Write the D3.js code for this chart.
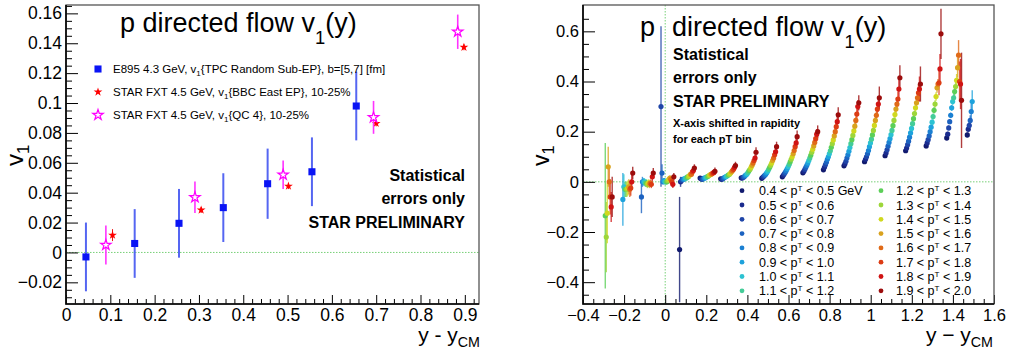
<!DOCTYPE html>
<html>
<head>
<meta charset="utf-8">
<script src="https://cdn.jsdelivr.net/npm/d3@7"></script>
<style>
  body { margin: 0; background: #fff; }
  svg { display: block; font-family: "Liberation Sans", Arial, Helvetica, sans-serif; white-space: pre; }
</style>
</head>
<body>
<svg id="chart" width="1019" height="351"></svg>
<script>
// ============= Data: left panel (p v1 vs y - yCM) =============
const e895Y = [0.045, 0.155, 0.255, 0.355, 0.455, 0.555, 0.655];
const e895V1 = [-0.003, 0.006, 0.0195, 0.03, 0.046, 0.054, 0.098];
const e895Err = [0.023, 0.023, 0.023, 0.023, 0.0235, 0.023, 0.023];

const bbcY = [0.105, 0.305, 0.502, 0.7, 0.898];
const bbcV1 = [0.0116, 0.0284, 0.0444, 0.0864, 0.1373];
const bbcErr = [0.004, 0.002, 0.002, 0.002, 0.002];

const qc4Y = [0.09, 0.291, 0.49, 0.694, 0.884];
const qc4V1 = [0.005, 0.0369, 0.052, 0.0904, 0.1477];
const qc4Err = [0.013, 0.0105, 0.0095, 0.011, 0.0115];

const leftXTicks = [0, 0.1, 0.2, 0.3, 0.4, 0.5, 0.6, 0.7, 0.8, 0.9];
const leftYTicks = [-0.02, 0, 0.02, 0.04, 0.06, 0.08, 0.1, 0.12, 0.14, 0.16];

// ============= Data: right panel (v1 per pT bin, x shifted per bin) =============
const ptLow = ["0.4", "0.5", "0.6", "0.7", "0.8", "0.9", "1.0", "1.1", "1.2", "1.3", "1.4", "1.5", "1.6", "1.7", "1.8", "1.9"];
const ptHigh = ["0.5", "0.6", "0.7", "0.8", "0.9", "1.0", "1.1", "1.2", "1.3", "1.4", "1.5", "1.6", "1.7", "1.8", "1.9", "2.0"];
const ptColors = [
  "#111a6e", "#1a2b8e", "#1f45a8", "#1c62c0", "#1b80d2", "#1ea2dc", "#2cc2d2", "#44cc98",
  "#5ccf58", "#9dd63a", "#d0d81e", "#d9a21e", "#e06a18", "#dc3c14", "#d01414", "#9c0c0c",
];

// rapidity bin of each column (first pT bin position)
const rapidityBins = [-0.33, -0.23, -0.13, -0.03, 0.07, 0.17, 0.27, 0.37, 0.47, 0.57, 0.67, 0.77, 0.87, 0.97, 1.07, 1.17, 1.27, 1.37, 1.47];

const v1ByPt = [
  [null, null, null, null, -0.27, 0.015, 0.012, 0.016, 0.014, 0.02, 0.036, 0.048, 0.064, 0.08, 0.104, 0.124, 0.143, 0.175, 0.187],
  [null, null, null, null, 0.0, 0.012, 0.01, 0.015, 0.018, 0.026, 0.042, 0.058, 0.072, 0.09, 0.115, 0.135, 0.155, 0.19, 0.21],
  [null, null, null, 0.3, 0.005, 0.01, 0.012, 0.018, 0.022, 0.032, 0.05, 0.068, 0.082, 0.1, 0.128, 0.148, 0.168, 0.215, 0.225],
  [null, null, -0.06, 0.035, 0.01, 0.012, 0.015, 0.02, 0.026, 0.038, 0.058, 0.078, 0.095, 0.112, 0.142, 0.162, 0.183, 0.24, 0.245],
  [null, null, 0.0, 0.0, 0.01, 0.015, 0.018, 0.025, 0.03, 0.045, 0.066, 0.09, 0.108, 0.125, 0.157, 0.178, 0.2, 0.265, 0.28],
  [null, -0.07, 0.0, 0.005, 0.012, 0.015, 0.02, 0.028, 0.036, 0.053, 0.075, 0.1, 0.122, 0.14, 0.172, 0.195, 0.218, 0.295, 0.32],
  [null, -0.02, 0.0, 0.0, 0.015, 0.018, 0.022, 0.032, 0.042, 0.061, 0.085, 0.112, 0.137, 0.155, 0.188, 0.213, 0.238, 0.32, null],
  [null, -0.03, -0.005, 0.0, 0.015, 0.02, 0.025, 0.038, 0.05, 0.07, 0.095, 0.124, 0.152, 0.17, 0.205, 0.232, 0.26, 0.335, null],
  [-0.135, -0.03, -0.005, 0.0, 0.02, 0.022, 0.028, 0.045, 0.058, 0.08, 0.106, 0.138, 0.168, 0.187, 0.224, 0.252, 0.285, 0.36, null],
  [-0.22, -0.03, -0.01, 0.005, 0.02, 0.025, 0.03, 0.05, 0.066, 0.09, 0.118, 0.152, 0.185, 0.205, 0.245, 0.272, 0.31, 0.38, null],
  [-0.125, -0.025, -0.005, 0.01, 0.025, 0.028, 0.035, 0.058, 0.075, 0.1, 0.13, 0.167, 0.203, 0.225, 0.268, 0.295, 0.34, 0.405, null],
  [0.06, -0.02, -0.01, 0.015, 0.03, 0.03, 0.04, 0.066, 0.085, 0.112, 0.143, 0.183, 0.222, 0.245, 0.29, 0.315, 0.375, 0.455, null],
  [0.0, -0.03, -0.005, 0.01, 0.03, 0.032, 0.045, 0.075, 0.095, 0.125, 0.157, 0.2, 0.245, 0.265, 0.31, 0.335, 0.39, 0.505, null],
  [-0.06, -0.025, -0.01, 0.0, 0.04, 0.035, 0.05, 0.085, 0.108, 0.14, 0.172, 0.22, 0.27, 0.29, 0.33, 0.355, 0.395, 0.4, null],
  [-0.1, 0.0, 0.02, -0.01, 0.045, 0.038, 0.058, 0.095, 0.12, 0.155, 0.19, 0.24, 0.3, 0.31, 0.37, 0.37, 0.45, 0.39, null],
  [-0.06, 0.035, 0.035, 0.02, 0.055, 0.042, 0.065, 0.118, 0.14, 0.18, 0.2, 0.267, 0.315, 0.335, 0.415, 0.39, 0.59, 0.325, null],
];

const errByPt = [
  [null, null, null, null, 0.21, 0.005, 0.005, 0.005, 0.005, 0.005, 0.005, 0.006, 0.006, 0.007, 0.008, 0.008, 0.009, 0.01, 0.01],
  [null, null, null, null, 0.02, 0.005, 0.005, 0.005, 0.005, 0.005, 0.005, 0.006, 0.006, 0.007, 0.008, 0.008, 0.009, 0.01, 0.012],
  [null, null, null, 0.32, 0.005, 0.005, 0.005, 0.005, 0.005, 0.005, 0.005, 0.006, 0.006, 0.007, 0.008, 0.008, 0.009, 0.01, 0.015],
  [null, null, 0.065, 0.035, 0.005, 0.005, 0.005, 0.005, 0.005, 0.005, 0.006, 0.006, 0.007, 0.007, 0.008, 0.008, 0.009, 0.01, 0.02],
  [null, null, 0.02, 0.01, 0.005, 0.005, 0.005, 0.005, 0.005, 0.005, 0.006, 0.006, 0.007, 0.007, 0.008, 0.009, 0.01, 0.011, 0.03],
  [null, 0.105, 0.015, 0.01, 0.005, 0.005, 0.005, 0.005, 0.005, 0.006, 0.006, 0.007, 0.007, 0.008, 0.008, 0.009, 0.01, 0.012, 0.045],
  [null, 0.05, 0.015, 0.01, 0.005, 0.005, 0.005, 0.005, 0.006, 0.006, 0.007, 0.007, 0.008, 0.008, 0.009, 0.01, 0.011, 0.013, null],
  [null, 0.03, 0.015, 0.01, 0.005, 0.005, 0.005, 0.006, 0.006, 0.007, 0.007, 0.008, 0.008, 0.009, 0.01, 0.011, 0.012, 0.015, null],
  [0.29, 0.03, 0.015, 0.01, 0.006, 0.006, 0.006, 0.006, 0.007, 0.007, 0.008, 0.008, 0.009, 0.01, 0.011, 0.012, 0.013, 0.018, null],
  [0.14, 0.03, 0.015, 0.01, 0.006, 0.006, 0.006, 0.007, 0.007, 0.008, 0.008, 0.009, 0.01, 0.011, 0.012, 0.013, 0.015, 0.02, null],
  [0.12, 0.03, 0.015, 0.01, 0.006, 0.006, 0.007, 0.007, 0.008, 0.008, 0.009, 0.01, 0.011, 0.012, 0.014, 0.015, 0.017, 0.025, null],
  [0.08, 0.03, 0.015, 0.01, 0.007, 0.007, 0.007, 0.008, 0.009, 0.01, 0.011, 0.012, 0.013, 0.014, 0.016, 0.018, 0.02, 0.04, null],
  [0.06, 0.03, 0.015, 0.01, 0.007, 0.007, 0.008, 0.009, 0.01, 0.011, 0.012, 0.014, 0.015, 0.017, 0.02, 0.022, 0.02, 0.06, null],
  [0.07, 0.03, 0.015, 0.012, 0.008, 0.008, 0.009, 0.01, 0.012, 0.013, 0.015, 0.017, 0.02, 0.022, 0.03, 0.035, 0.05, 0.08, null],
  [0.06, 0.03, 0.02, 0.015, 0.01, 0.01, 0.011, 0.013, 0.015, 0.017, 0.02, 0.022, 0.025, 0.03, 0.04, 0.05, 0.06, 0.1, null],
  [0.08, 0.025, 0.02, 0.015, 0.015, 0.015, 0.015, 0.02, 0.02, 0.025, 0.025, 0.03, 0.03, 0.045, 0.05, 0.07, 0.1, 0.19, null],
];

const rightXTicks = [-0.4, -0.2, 0, 0.2, 0.4, 0.6, 0.8, 1, 1.2, 1.4, 1.6];
const rightYTicks = [-0.4, -0.2, 0, 0.2, 0.4, 0.6];

// ============= Layout =============
const PT_SHIFT = 0.0048;
const LEFT_BOX = { x0: 66, x1: 479, y0: 5, y1: 304 };
const RIGHT_BOX = { x0: 583, x1: 994, y0: 5, y1: 304 };
const ZERO_LINE_COLOR = "#78d078";

const svg = d3.select("#chart");

const leftX = d3.scaleLinear().domain([0, 0.932]).range([LEFT_BOX.x0, LEFT_BOX.x1]);
const leftY = d3.scaleLinear().domain([-0.0345, 0.1656]).range([LEFT_BOX.y1, LEFT_BOX.y0]);
const rightX = d3.scaleLinear().domain([-0.4, 1.6]).range([RIGHT_BOX.x0, RIGHT_BOX.x1]);
const rightY = d3.scaleLinear().domain([-0.487, 0.705]).range([RIGHT_BOX.y1, RIGHT_BOX.y0]);

const formatTick = (v) => (v === 0 ? "0" : String(+v.toFixed(2)).replace("-", "\u2212"));

/**
 * Text with sub/superscript parts: [string, baseline offset px, size factor]
 */
const appendRichText = (parent, x, y, parts, opts) => {
  const text = parent
    .append("text")
    .attr("x", x)
    .attr("y", y)
    .attr("font-size", opts.size)
    .attr("font-weight", opts.weight || "normal")
    .attr("text-anchor", opts.anchor || "start")
    .attr("fill", "#000");
  if (opts.rotate) text.attr("transform", `rotate(${opts.rotate},${x},${y})`);
  let shift = 0;
  parts.forEach(([str, offset = 0, scale = 1]) => {
    text
      .append("tspan")
      .attr("dy", offset - shift)
      .attr("font-size", opts.size * scale)
      .text(str);
    shift = offset;
  });
  return text;
};

/**
 * Renders ROOT-style axes: ticks inside the frame, minor ticks, frame box
 */
const renderAxes = (box, xScale, yScale, cfg) => {
  const groups = [];
  const bottom = (values, len, fmt) =>
    svg
      .append("g")
      .attr("transform", `translate(0,${box.y1})`)
      .call(d3.axisBottom(xScale).tickValues(values).tickSize(-len).tickPadding(5).tickFormat(fmt));
  const left = (values, len, fmt) =>
    svg
      .append("g")
      .attr("transform", `translate(${box.x0},0)`)
      .call(d3.axisLeft(yScale).tickValues(values).tickSize(-len).tickPadding(4).tickFormat(fmt));

  groups.push(bottom(cfg.xMinor, cfg.xMinorLen, () => ""));
  groups.push(bottom(cfg.xTicks, cfg.xMajorLen, formatTick));
  groups.push(left(cfg.yMinor, cfg.yMinorLen, () => ""));
  groups.push(left(cfg.yTicks, cfg.yMajorLen, formatTick));

  groups.forEach((g) => {
    g.select(".domain").remove();
    g.selectAll("line").attr("stroke", "#000").attr("stroke-width", 1);
    g.selectAll("text").attr("font-size", cfg.fontSize).attr("fill", "#000").attr("font-family", null);
  });

  svg
    .append("rect")
    .attr("x", box.x0)
    .attr("y", box.y0)
    .attr("width", box.x1 - box.x0)
    .attr("height", box.y1 - box.y0)
    .attr("fill", "none")
    .attr("stroke", "#555")
    .attr("stroke-width", 1.3);
  svg
    .append("path")
    .attr("d", `M${box.x0},${box.y0}V${box.y1}H${box.x1}`)
    .attr("fill", "none")
    .attr("stroke", "#000")
    .attr("stroke-width", 1.6);
};

const dottedLine = (x1, y1, x2, y2) =>
  svg
    .append("line")
    .attr("x1", x1)
    .attr("y1", y1)
    .attr("x2", x2)
    .attr("y2", y2)
    .attr("stroke", ZERO_LINE_COLOR)
    .attr("stroke-width", 1)
    .attr("stroke-dasharray", "1.5,1.5");

const inRange = (lo, hi) => (v) => v >= lo - 1e-9 && v <= hi + 1e-9;

// ============= Left panel =============
dottedLine(LEFT_BOX.x0, leftY(0), LEFT_BOX.x1, leftY(0));

renderAxes(LEFT_BOX, leftX, leftY, {
  xTicks: leftXTicks,
  xMinor: d3.range(0, 0.93, 0.02).filter((v) => Math.round(v * 50) % 5 !== 0),
  xMajorLen: 9,
  xMinorLen: 5,
  yTicks: leftYTicks,
  yMinor: d3.range(-0.03, 0.166, 0.005).filter((v) => Math.round(v * 200) % 4 !== 0),
  yMajorLen: 12,
  yMinorLen: 6,
  fontSize: 17.5,
});

const leftSeries = [
  { xs: e895Y, vs: e895V1, es: e895Err, bar: "#5566f2", barW: 2, symbol: d3.symbolSquare, size: 50, fill: "#0a14f5", stroke: "none" },
  { xs: bbcY, vs: bbcV1, es: bbcErr, bar: "#ee1111", barW: 1, symbol: d3.symbolStar, size: 24, fill: "#ff0000", stroke: "none" },
  { xs: qc4Y, vs: qc4V1, es: qc4Err, bar: "#ff33ff", barW: 1.6, symbol: d3.symbolStar, size: 34, fill: "#fff", stroke: "#ff00ff" },
];

leftSeries.forEach((s) => {
  const g = svg.append("g");
  s.xs.forEach((x, i) => {
    g.append("line")
      .attr("x1", leftX(x))
      .attr("x2", leftX(x))
      .attr("y1", leftY(s.vs[i] - s.es[i]))
      .attr("y2", leftY(s.vs[i] + s.es[i]))
      .attr("stroke", s.bar)
      .attr("stroke-width", s.barW);
    g.append("path")
      .attr("d", d3.symbol().type(s.symbol).size(s.size)())
      .attr("transform", `translate(${leftX(x)},${leftY(s.vs[i])})`)
      .attr("fill", s.fill)
      .attr("stroke", s.stroke)
      .attr("stroke-width", 1.2);
  });
});

// legend
const leftLegend = [
  [["E895 4.3 GeV, v"], ["1", 3, 0.7], ["{TPC Random Sub-EP}, b=[5,7] [fm]"]],
  [["STAR FXT 4.5 GeV, v"], ["1", 3, 0.7], ["{BBC East EP}, 10-25%"]],
  [["STAR FXT 4.5 GeV, v"], ["1", 3, 0.7], ["{QC 4}, 10-25%"]],
];
leftLegend.forEach((parts, i) => {
  const s = leftSeries[i];
  const y = 69 + i * 23;
  svg
    .append("path")
    .attr("d", d3.symbol().type(s.symbol).size(s.size)())
    .attr("transform", `translate(98,${y})`)
    .attr("fill", s.fill)
    .attr("stroke", s.stroke)
    .attr("stroke-width", 1.2);
  appendRichText(svg, 113, y + 4, parts, { size: 11.5 });
});

appendRichText(svg, 120, 32, [["p directed flow v"], ["1", 12, 0.68], ["(y)"]], { size: 27 });
appendRichText(svg, 23, 166, [["v"], ["1", 6, 0.7]], { size: 24, rotate: -90 });
appendRichText(svg, 480, 342, [["y - y"], ["CM", 5, 0.68]], { size: 21, anchor: "end" });

[["Statistical", 181], ["errors only", 204], ["STAR PRELIMINARY", 228]].forEach(([t, y]) =>
  appendRichText(svg, 465, y, [[t]], { size: 16, weight: "bold", anchor: "end" }),
);

// ============= Right panel =============
dottedLine(RIGHT_BOX.x0, rightY(0), RIGHT_BOX.x1, rightY(0));
dottedLine(rightX(0), RIGHT_BOX.y0, rightX(0), RIGHT_BOX.y1);

renderAxes(RIGHT_BOX, rightX, rightY, {
  xTicks: rightXTicks,
  xMinor: d3.range(-0.4, 1.601, 0.05).filter((v) => Math.round(v * 20) % 4 !== 0),
  xMajorLen: 9,
  xMinorLen: 5,
  yTicks: rightYTicks,
  yMinor: d3.range(-0.45, 0.7, 0.05).filter((v) => Math.round(v * 20) % 4 !== 0).filter(inRange(-0.487, 0.705)),
  yMajorLen: 12,
  yMinorLen: 6,
  fontSize: 16.5,
});

const rightPoints = [];
v1ByPt.forEach((row, k) => {
  row.forEach((v, j) => {
    if (v === null) return;
    rightPoints.push({ k, x: rapidityBins[j] + k * PT_SHIFT, v, err: errByPt[k][j] });
  });
});

const rg = svg.append("g");
rg.selectAll(".err")
  .data(rightPoints)
  .enter()
  .append("line")
  .attr("x1", (d) => rightX(d.x))
  .attr("x2", (d) => rightX(d.x))
  .attr("y1", (d) => rightY(d.v - d.err))
  .attr("y2", (d) => rightY(d.v + d.err))
  .attr("stroke", (d) => ptColors[d.k])
  .attr("stroke-opacity", 0.8)
  .attr("stroke-width", 1.4);
rg.selectAll(".pt")
  .data(rightPoints)
  .enter()
  .append("circle")
  .attr("cx", (d) => rightX(d.x))
  .attr("cy", (d) => rightY(d.v))
  .attr("r", 2.6)
  .attr("fill", (d) => ptColors[d.k]);

// legend (two columns of 8)
ptLow.forEach((lo, k) => {
  const col = Math.floor(k / 8);
  const row = k % 8;
  const mx = col === 0 ? 742 : 881;
  const y = 190.7 + row * 14.3;
  svg.append("circle").attr("cx", mx).attr("cy", y).attr("r", 2.4).attr("fill", ptColors[k]);
  appendRichText(
    svg,
    mx + (col === 0 ? 17 : 15),
    y + 4.5,
    [[`${lo} < p`], ["T", -4, 0.65], [` < ${ptHigh[k]}${k === 0 ? " GeV" : ""}`]],
    { size: 12.5 },
  );
});

appendRichText(svg, 640, 36, [["p"]], { size: 27 });
appendRichText(svg, 672, 36, [["directed flow v"], ["1", 12, 0.68], ["(y)"]], { size: 27 });
appendRichText(svg, 549, 166, [["v"], ["1", 5, 0.7]], { size: 23, rotate: -90 });
appendRichText(svg, 993, 342, [["y \u2212 y"], ["CM", 5, 0.68]], { size: 21, anchor: "end" });

[["Statistical", 60, 16], ["errors only", 83, 16], ["STAR PRELIMINARY", 107, 16], ["X-axis shifted in rapidity", 127, 11], ["for each pT bin", 143, 11]].forEach(
  ([t, y, size]) => appendRichText(svg, 673, y, [[t]], { size, weight: "bold" }),
);
</script>
</body>
</html>
